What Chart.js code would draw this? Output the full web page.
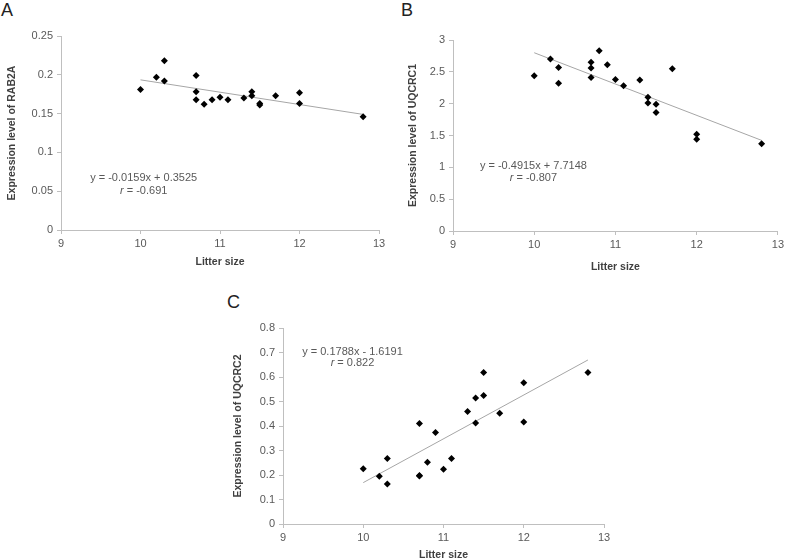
<!DOCTYPE html>
<html><head><meta charset="utf-8">
<script src="https://cdn.jsdelivr.net/npm/chart.js@4.4.0/dist/chart.umd.min.js"></script>
<style>
html,body{margin:0;padding:0;background:#fff;overflow:hidden;width:787px;height:559px;}
canvas{position:absolute;}
.lbl{position:absolute;font-family:"Liberation Sans",Arial,sans-serif;font-size:18px;color:#222;line-height:1;}
</style></head><body>
<div class="lbl" style="left:1px;top:1px">A</div>
<div class="lbl" style="left:401px;top:1px">B</div>
<div class="lbl" style="left:227px;top:293px">C</div>
<canvas id="cA" width="390" height="280" style="left:0;top:0"></canvas>
<canvas id="cB" width="397" height="280" style="left:390px;top:0"></canvas>
<canvas id="cC" width="420" height="279" style="left:200px;top:280px"></canvas>
<script>
// ---- data ----
const litterSize = [10,10.2,10.3,10.3,10.7,10.7,10.7,10.8,10.9,11,11.1,11.3,11.4,11.4,11.5,11.5,11.7,12,12,12.8];
const rab2a  = [0.181,0.197,0.218,0.192,0.199,0.178,0.168,0.162,0.168,0.171,0.168,0.170,0.178,0.173,0.163,0.161,0.173,0.177,0.163,0.146];
const uqcrc1 = [2.44,2.70,2.57,2.32,2.65,2.56,2.41,2.83,2.61,2.38,2.28,2.37,2.10,2.01,1.99,1.86,2.55,1.52,1.44,1.37];
const uqcrc2 = [0.226,0.195,0.267,0.163,0.410,0.198,0.196,0.252,0.373,0.223,0.267,0.459,0.514,0.412,0.618,0.525,0.452,0.577,0.416,0.618];
const fitA = {slope:-0.0159, intercept:0.3525, eq:'y = -0.0159x + 0.3525', r:'-0.691'};
const fitB = {slope:-0.4915, intercept:7.7148, eq:'y = -0.4915x + 7.7148', r:'-0.807'};
const fitC = {slope:0.1788,  intercept:-1.6191, eq:'y = 0.1788x - 1.6191', r:'0.822'};
const xTicks = [9,10,11,12,13];

const FONT = '"Liberation Sans", Arial, sans-serif';
const eqPlugin = {
  id:'eq',
  afterDatasetsDraw(chart, args, o){
    const {ctx, scales:{x, y}} = chart;
    const cx = x.getPixelForValue(o.x);
    ctx.save();
    ctx.fillStyle = '#595959';
    ctx.textBaseline = 'middle';
    ctx.font = '11px ' + FONT;
    ctx.textAlign = 'center';
    ctx.fillText(o.eq, cx, y.getPixelForValue(o.y1));
    const rest = ' = ' + o.r;
    ctx.font = 'italic 11px ' + FONT;
    const wr = ctx.measureText('r').width;
    ctx.font = '11px ' + FONT;
    const wrest = ctx.measureText(rest).width;
    const start = cx - (wr + wrest) / 2;
    const yy = y.getPixelForValue(o.y2);
    ctx.textAlign = 'left';
    ctx.font = 'italic 11px ' + FONT;
    ctx.fillText('r', start, yy);
    ctx.font = '11px ' + FONT;
    ctx.fillText(rest, start + wr, yy);
    ctx.restore();
  }
};

function fmt(v){ return String(+(+v).toFixed(4)); }

function makeChart(id, ys, fit, p){
  const pts = litterSize.map((x,i)=>({x, y: ys[i]}));
  const x0 = Math.min(...litterSize), x1 = Math.max(...litterSize);
  const line = [x0, x1].map(x=>({x, y: fit.slope*x + fit.intercept}));
  return new Chart(document.getElementById(id), {
    type:'scatter',
    data:{datasets:[
      {data:pts, pointStyle:'rectRot', pointRadius:3.5, pointHoverRadius:3.5, backgroundColor:'#000', borderColor:'#000', borderWidth:0},
      {type:'line', data:line, borderColor:'#a6a6a6', borderWidth:1, pointRadius:0, fill:false, tension:0}
    ]},
    options:{
      responsive:false, animation:false, events:[],
      layout:{padding:{left:0, right:p.right, top:p.top, bottom:0}},
      plugins:{legend:{display:false}, tooltip:{enabled:false},
        eq:{x:p.eqX, y1:p.eqY1, y2:p.eqY2, eq:fit.eq, r:fit.r}},
      scales:{
        x:{type:'linear', min:9, max:13,
          afterBuildTicks(s){ s.ticks = xTicks.map(v=>({value:v})); },
          afterFit(s){ s.height = p.xh; },
          grid:{display:true, drawOnChartArea:false, drawTicks:true, tickLength:4, color:'#bfbfbf'},
          border:{color:'#bfbfbf', width:1},
          ticks:{color:'#595959', font:{family:FONT, size:11}, padding:3, callback:fmt, maxRotation:0},
          title:{display:true, text:'Litter size', color:'#404040', font:{family:FONT, size:10.5, weight:'bold'}, padding:{top:0, bottom:p.xtPad}}
        },
        y:{type:'linear', min:0, max:p.ymax,
          ticks:{stepSize:p.step, color:'#595959', font:{family:FONT, size:11}, padding:4, callback:fmt},
          afterFit(s){ s.width = p.yw; },
          grid:{display:true, drawOnChartArea:false, drawTicks:true, tickLength:4, color:'#bfbfbf'},
          border:{color:'#bfbfbf', width:1},
          title:{display:true, text:p.ytitle, color:'#404040', font:{family:FONT, size:10.5, weight:'bold'}, padding:{top:p.ytPad, bottom:0}}
        }
      }
    },
    plugins:[eqPlugin]
  });
}

makeChart('cA', rab2a, fitA, {right:11, top:36, xh:50, yw:61, ymax:0.25, step:0.05,
  ytitle:'Expression level of RAB2A', ytPad:6, xtPad:11.5, eqX:10.04, eqY1:0.0674, eqY2:0.050});
makeChart('cB', uqcrc1, fitB, {right:8, top:40, xh:49, yw:63, ymax:3, step:0.5,
  ytitle:'Expression level of UQCRC1', ytPad:17, xtPad:6.5, eqX:9.99, eqY1:1.026, eqY2:0.828});
makeChart('cC', uqcrc2, fitC, {right:16, top:48, xh:35, yw:83, ymax:0.8, step:0.1,
  ytitle:'Expression level of UQCRC2', ytPad:32, xtPad:-2, eqX:9.866, eqY1:0.703, eqY2:0.658});
</script>
</body></html>
